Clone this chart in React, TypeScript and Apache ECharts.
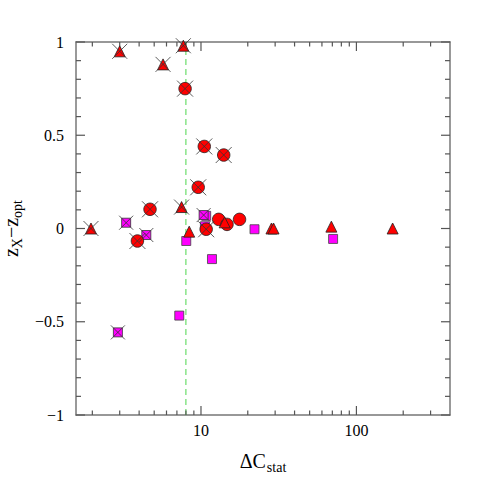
import React, { useEffect, useRef } from "react";
import * as echarts from "echarts";

// ---- data (ΔC_stat, z_X - z_opt) ----
const crossedTriangles: number[][] = [[3.0, 0.95], [5.7, 0.88], [7.7, 0.98], [1.96, 0.0], [7.5, 0.115]];
const crossedCircles: number[][] = [[7.9, 0.75], [10.5, 0.44], [14.0, 0.394], [9.6, 0.221], [4.7, 0.103], [3.9, -0.067], [10.8, -0.004]];
const crossedSquares: number[][] = [[3.3, 0.031], [4.45, -0.035], [10.4, 0.072], [2.92, -0.557]];
const plainCircles: number[][] = [[13.0, 0.049], [14.7, 0.022], [17.7, 0.049]];
const plainTriangles: number[][] = [[8.4, -0.017], [14.2, 0.033], [28.4, 0.0], [29.3, 0.0], [69, 0.01], [171, 0.0]];
const plainSquares: number[][] = [[8.04, -0.067], [11.77, -0.164], [22.1, -0.004], [70.8, -0.056], [7.25, -0.467], [10.8, 0.068], [10.6, 0.012]];

const threshold = 8;
const xMajorTicks = [10, 100];
const xMinorTicks = [2, 3, 4, 5, 6, 7, 8, 9, 20, 30, 40, 50, 60, 70, 80, 90, 200, 300];
const xLabels = [10, 100];
const yMajorTicks = [-1, -0.5, 0, 0.5, 1];
const yMinorTicks = [-0.9, -0.8, -0.7, -0.6, -0.4, -0.3, -0.2, -0.1, 0.1, 0.2, 0.3, 0.4, 0.6, 0.7, 0.8, 0.9];

const FONT = "Liberation Serif";
const AXIS = "#777";
const TICK = "#555";
const RED = "#ff0000";
const MAGENTA = "#ff00ff";
const CROSS = "path://M0 0L10 10M10 0L0 10";

const X_MIN = 1.57;
const X_MAX = 400;
const Y_MIN = -1;
const Y_MAX = 1;

export default function App() {
  const ref = useRef<HTMLDivElement>(null);
  useEffect(() => {
    if (!ref.current) return;
    const chart = echarts.init(ref.current, null, { renderer: "svg" });
    const line = (show: boolean) => ({ show, onZero: false, lineStyle: { color: AXIS, width: 1.5 } });
    const yAxisCommon = {
      type: "value",
      min: Y_MIN,
      max: Y_MAX,
      interval: 0.5,
      axisLine: line(true),
      splitLine: { show: false },
      axisTick: { show: false },
      minorTick: { show: false },
    };
    const marker = (color: string, border: string) => ({
      color,
      borderColor: border,
      borderWidth: 0.8,
      opacity: 1,
    });
    const crossStyle = { color: "none", borderColor: "#333", borderWidth: 0.8, opacity: 1 };
    chart.setOption({
      animation: false,
      grid: {
        left: 76, right: 41, top: 42, bottom: 76,
        containLabel: false, outerBoundsMode: "none",
        show: false,
      },
      xAxis: [
        {
          type: "log",
          logBase: 10,
          min: X_MIN,
          max: X_MAX,
          position: "bottom",
          axisLine: line(true),
          axisTick: { show: false },
          splitLine: { show: false },
          axisLabel: {
            show: true,
            margin: 7,
            fontFamily: FONT,
            fontSize: 16,
            color: "#000",
            customValues: xLabels,
            formatter: (v: number) => String(Math.round(v)),
          },
          name: "{m|ΔC}{s|stat}",
          nameLocation: "middle",
          nameGap: 36,
          nameTextStyle: {
            fontFamily: FONT,
            color: "#000",
            rich: {
              m: { fontFamily: FONT, fontSize: 20, color: "#000", lineHeight: 20, verticalAlign: "top" },
              s: { fontFamily: FONT, fontSize: 14, color: "#000", padding: [9, 0, 0, 1], verticalAlign: "top" },
            },
          },
        },
        {
          type: "log",
          logBase: 10,
          min: X_MIN,
          max: X_MAX,
          position: "top",
          axisLine: line(true),
          axisTick: { show: false },
          splitLine: { show: false },
          axisLabel: { show: false },
        },
      ],
      yAxis: [
        {
          ...yAxisCommon,
          position: "left",
          axisLabel: {
            margin: 12,
            fontFamily: FONT,
            fontSize: 16,
            color: "#000",
            formatter: (v: number) => (v === 0 ? "0" : v < 0 ? "\u2212" + String(Math.abs(v)) : String(v)),
          },
          name: "{m|z}{s|X}{m|\u2212z}{s|opt}",
          nameLocation: "middle",
          nameGap: 44,
          nameRotate: 90,
          nameTextStyle: {
            fontFamily: FONT,
            color: "#000",
            rich: {
              m: { fontFamily: FONT, fontSize: 20, color: "#000", lineHeight: 20, verticalAlign: "top" },
              s: { fontFamily: FONT, fontSize: 14, color: "#000", padding: [9, 0, 0, 0], verticalAlign: "top" },
            },
          },
        },
        {
          ...yAxisCommon,
          position: "right",
          axisLabel: { show: false },
        },
      ],
      series: [
        { type: "scatter", z: 2, clip: false, symbol: "rect", symbolSize: 9, data: plainSquares, itemStyle: marker(MAGENTA, "#444") },
        { type: "scatter", z: 3, clip: false, symbol: "rect", symbolSize: 9, data: crossedSquares, itemStyle: marker(MAGENTA, "#333") },
        { type: "scatter", z: 4, clip: false, symbol: "circle", symbolSize: 12.5, data: plainCircles, itemStyle: marker(RED, "#222") },
        { type: "scatter", z: 5, clip: false, symbol: "circle", symbolSize: 12.5, data: crossedCircles, itemStyle: marker(RED, "#222") },
        { type: "scatter", z: 6, clip: false, symbol: "triangle", symbolSize: 11, data: plainTriangles, itemStyle: marker(RED, "#222") },
        { type: "scatter", z: 7, clip: false, symbol: "triangle", symbolSize: 11, data: crossedTriangles, itemStyle: marker(RED, "#222") },
        { type: "scatter", z: 8, clip: false, symbol: CROSS, symbolSize: 16, data: crossedCircles, itemStyle: crossStyle },
        { type: "scatter", z: 8, clip: false, symbol: CROSS, symbolSize: 15, data: crossedTriangles, itemStyle: crossStyle },
        { type: "scatter", z: 8, clip: false, symbol: CROSS, symbolSize: 14, data: crossedSquares, itemStyle: crossStyle },
      ],
    });

    // ticks and threshold line, placed through the chart's own scales
    const toPx = (v: number[]) => chart.convertToPixel({ gridIndex: 0 }, v) as number[];
    const g: any[] = [];
    const W = 1.2;
    const xTick = (v: number, len: number) => {
      const b = toPx([v, Y_MIN]);
      const t = toPx([v, Y_MAX]);
      g.push({ type: "rect", z: 3, silent: true, shape: { x: b[0] - W / 2, y: b[1] - len, width: W, height: len }, style: { fill: TICK } });
      g.push({ type: "rect", z: 3, silent: true, shape: { x: t[0] - W / 2, y: t[1], width: W, height: len }, style: { fill: TICK } });
    };
    const yTick = (v: number, len: number) => {
      const l = toPx([X_MIN, v]);
      const r = toPx([X_MAX, v]);
      g.push({ type: "rect", z: 3, silent: true, shape: { x: l[0], y: l[1] - W / 2, width: len, height: W }, style: { fill: TICK } });
      g.push({ type: "rect", z: 3, silent: true, shape: { x: r[0] - len, y: r[1] - W / 2, width: len, height: W }, style: { fill: TICK } });
    };
    xMajorTicks.forEach((v) => xTick(v, 9));
    xMinorTicks.forEach((v) => xTick(v, 4.5));
    yMajorTicks.forEach((v) => yTick(v, 9));
    yMinorTicks.forEach((v) => yTick(v, 5));
    const tb = toPx([threshold, Y_MIN]);
    const tt = toPx([threshold, Y_MAX]);
    g.push({
      type: "line", z: 1, silent: true,
      shape: { x1: tb[0], y1: tb[1], x2: tt[0], y2: tt[1] },
      style: { stroke: "#4cd64c", lineWidth: 1, lineDash: [6, 4] },
    });
    chart.setOption({ graphic: g });
    return () => chart.dispose();
  }, []);
  return <div ref={ref} style={{ position: "absolute", left: 0, top: 0, width: 491, height: 491 }} />;
}
